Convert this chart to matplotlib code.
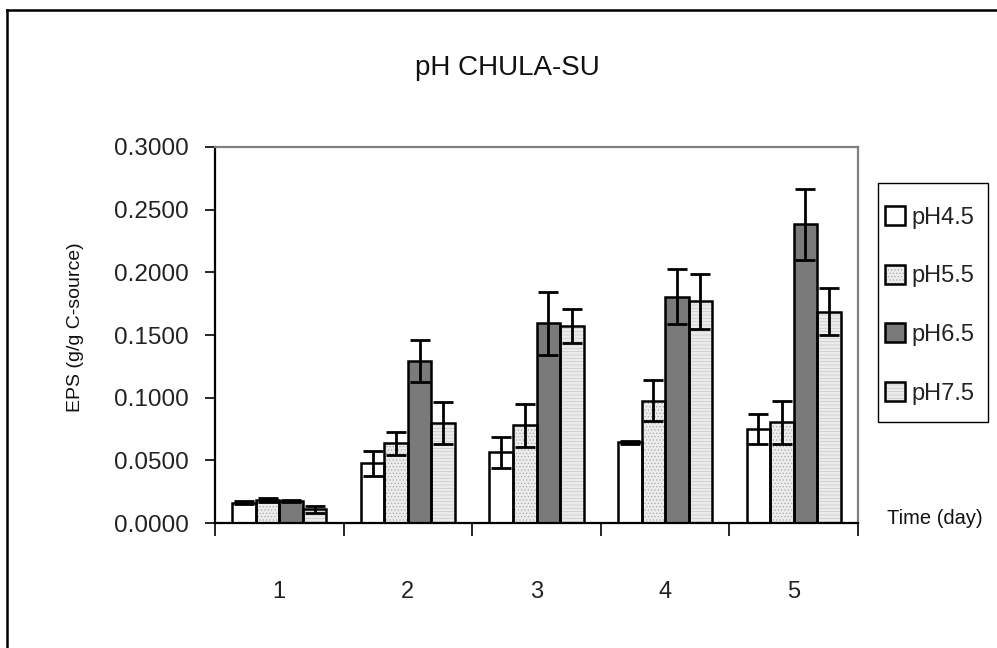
import matplotlib
matplotlib.use('Agg')
import matplotlib.pyplot as plt
from matplotlib.lines import Line2D
from matplotlib.patches import Patch, Rectangle
import numpy as np

plt.rcParams['font.family'] = ['Liberation Sans', 'DejaVu Sans']
plt.rcParams['hatch.linewidth'] = 0.5

days = ['1', '2', '3', '4', '5']
series = ['pH4.5', 'pH5.5', 'pH6.5', 'pH7.5']

ph45 = [0.0160, 0.0476, 0.0564, 0.0644, 0.0748]
ph55 = [0.0185, 0.0636, 0.0780, 0.0976, 0.0804]
ph65 = [0.0178, 0.1295, 0.1594, 0.1806, 0.2384]
ph75 = [0.0108, 0.0800, 0.1572, 0.1769, 0.1686]

err45 = [0.0012, 0.0102, 0.0122, 0.0012, 0.0118]
err55 = [0.0015, 0.0092, 0.0170, 0.0162, 0.0171]
err65 = [0.0008, 0.0167, 0.0253, 0.0222, 0.0284]
err75 = [0.0028, 0.0168, 0.0136, 0.0220, 0.0189]

values = [ph45, ph55, ph65, ph75]
errors = [err45, err55, err65, err75]
faces = ['white', '#ececec', '#7a7a7a', '#ebebeb']
hatches = ['', '.....', '', '-----']
hatch_cols = ['white', '#a8a8a8', '#7a7a7a', '#c8c8c8']

fig = plt.figure(figsize=(9.97, 6.48), dpi=100)
ax = fig.add_axes([215/997, 1-523/648, (858-215)/997, (523-147)/648])

x = np.arange(1, len(days) + 1)
w = 0.183
for i in range(4):
    pos = x + (i - 1.5) * w
    # textured fill, then the black outline on top
    ax.bar(pos, values[i], width=w, color=faces[i], hatch=hatches[i],
           edgecolor=hatch_cols[i], linewidth=0, zorder=2)
    ax.bar(pos, values[i], width=w, fill=False, edgecolor='black',
           linewidth=1.8, zorder=2.5)
    ax.errorbar(pos, values[i], yerr=errors[i], fmt='none',
                ecolor='black', elinewidth=2, capsize=7, capthick=2, zorder=3)

ax.set_xlim(0.5, 5.5)
ax.set_ylim(0, 0.3)
ax.set_yticks(np.arange(0, 0.3001, 0.05))
ax.set_yticklabels(['%.4f' % v for v in np.arange(0, 0.3001, 0.05)])
ax.tick_params(axis='y', direction='out', length=7, width=1.2, pad=12,
               labelsize=17.5, labelcolor='#222222')

ax.set_xticks(np.arange(0.5, 5.6, 1.0))
ax.set_xticklabels([])
ax.tick_params(axis='x', which='major', direction='out', length=9, width=1.2)
ax.set_xticks(x, minor=True)
ax.set_xticklabels(days, minor=True)
ax.tick_params(axis='x', which='minor', length=0, pad=42, labelsize=17,
               labelcolor='#222222')

for s in ['left', 'bottom']:
    ax.spines[s].set_color('black')
    ax.spines[s].set_linewidth(1.6)
for s in ['top', 'right']:
    ax.spines[s].set_color('#808080')
    ax.spines[s].set_linewidth(1.6)

fig.text(507/997, 1-68/648, 'pH CHULA-SU', ha='center', va='center',
         fontsize=20, color='#111111')
fig.text(75/997, 1-327/648, 'EPS (g/g C-source)', rotation=90,
         ha='center', va='center', fontsize=14, color='#111111')
fig.text(887/997, 1-518/648, 'Time (day)', ha='left', va='center',
         fontsize=14.5, color='#111111')

# legend box drawn separately so its padding can match the original
fig.add_artist(Rectangle((878/997, 1-422/648), 110/997, 239/648,
                         transform=fig.transFigure, fill=False,
                         edgecolor='black', linewidth=1.0))
handles = [(Patch(facecolor=faces[i], hatch=hatches[i], edgecolor=hatch_cols[i], linewidth=0),
            Patch(fill=False, edgecolor='black', linewidth=1.8))
           for i in range(4)]
leg = fig.legend(handles, series, loc='upper left',
                 bbox_to_anchor=(885/997, 1-206/648), bbox_transform=fig.transFigure,
                 frameon=False, fontsize=17, labelcolor='#222222',
                 handlelength=0.85, handleheight=0.85, handletextpad=0.25,
                 labelspacing=1.53, borderpad=0, borderaxespad=0)

# outer chart frame (only left and top edges are visible in the crop)
fig.add_artist(Line2D([7/997, 7/997], [0, 1-10/648], transform=fig.transFigure,
                      color='black', linewidth=1.8))
fig.add_artist(Line2D([7/997, 1], [1-10/648, 1-10/648], transform=fig.transFigure,
                      color='black', linewidth=1.8))

fig.savefig('out.png', dpi=100, facecolor='white')
